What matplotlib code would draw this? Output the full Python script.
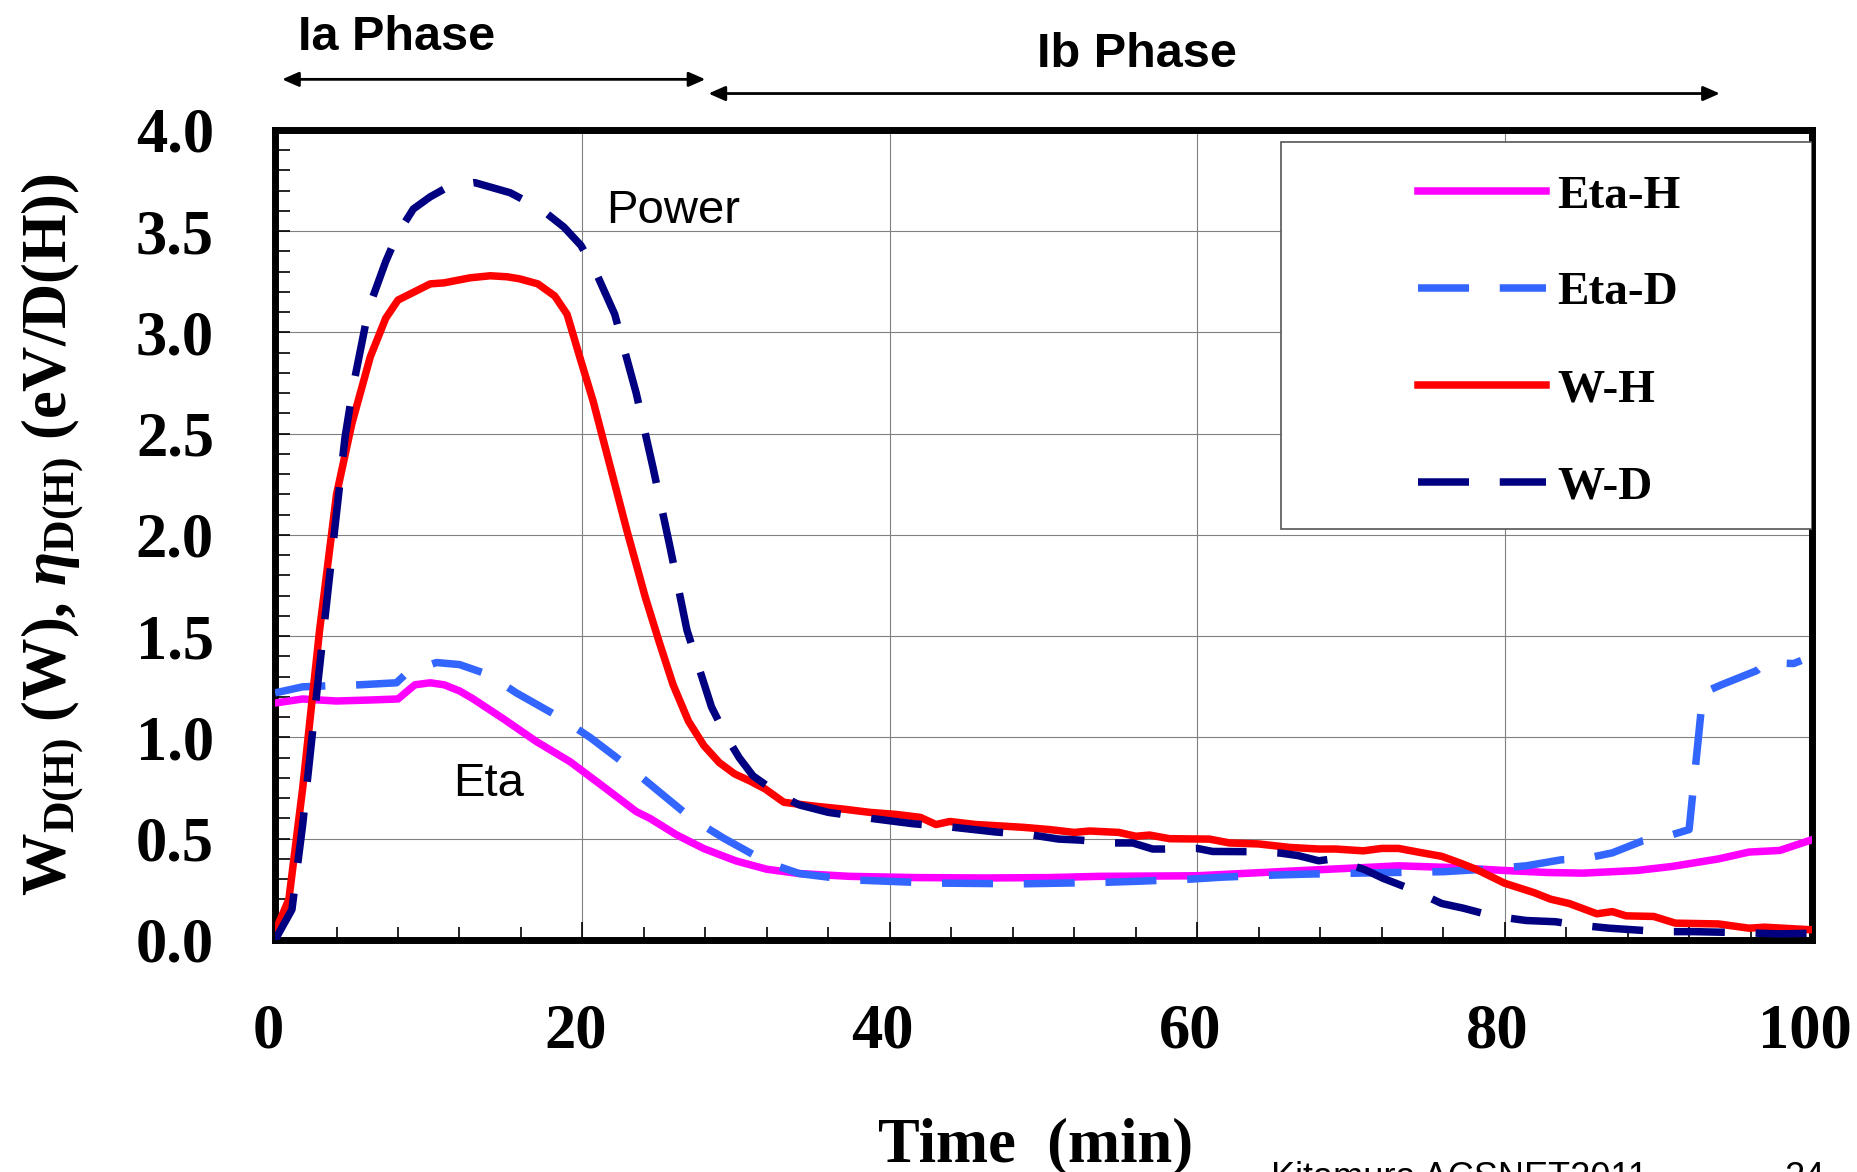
import numpy as np
import matplotlib
matplotlib.use('Agg')
import matplotlib.pyplot as plt
import matplotlib.transforms as mtransforms
from matplotlib.ticker import MultipleLocator, FormatStrFormatter
from matplotlib.patches import Rectangle

plt.rcParams['mathtext.fontset'] = 'custom'
plt.rcParams['mathtext.rm'] = 'Liberation Serif:bold'
plt.rcParams['mathtext.it'] = 'Liberation Serif:italic:bold'
plt.rcParams['mathtext.bf'] = 'Liberation Serif:bold'

# valeurs (temps en min)
t_wh = [0, 0.9, 1.8, 2.9, 4.0, 5.0, 6.2, 7.2, 8.0, 10.1, 11.0, 12.7, 14.0, 15.1, 15.9, 17.1,
        18.2, 19.0, 19.9, 20.7, 21.8, 22.9, 24.1, 25.0, 25.9, 26.9, 27.9, 28.9, 29.9, 30.9,
        31.9, 33.1, 34.1, 35.2, 37.0, 38.7, 40.4, 42.0, 43.0, 43.9, 45.6, 47.4, 48.7, 50.4,
        52.0, 53.0, 54.9, 56.0, 56.9, 58.2, 60.8, 62.1, 64.0, 66.0, 67.9, 69.0, 70.8, 72.0,
        73.1, 74.5, 75.9, 77.1, 78.2, 80.0, 81.9, 83.0, 84.2, 86.0, 87.0, 87.9, 89.7, 91.1,
        93.9, 95.9, 96.9, 100]
w_h = [0.04, 0.2, 0.75, 1.53, 2.2, 2.55, 2.88, 3.07, 3.16, 3.24, 3.245, 3.27, 3.28, 3.275, 3.265, 3.24,
       3.18, 3.09, 2.86, 2.66, 2.34, 2.02, 1.69, 1.47, 1.26, 1.08, 0.96, 0.876, 0.82, 0.785,
       0.745, 0.68, 0.67, 0.66, 0.646, 0.63, 0.62, 0.605, 0.57, 0.585, 0.57, 0.562, 0.556, 0.545,
       0.531, 0.538, 0.531, 0.512, 0.518, 0.50, 0.498, 0.479, 0.474, 0.457, 0.449, 0.449, 0.44, 0.452,
       0.452, 0.432, 0.413, 0.38, 0.347, 0.28, 0.234, 0.201, 0.18, 0.129, 0.14, 0.119, 0.116, 0.083,
       0.079, 0.058, 0.063, 0.05]

t_wd = [0, 1.1, 1.8, 2.6, 3.25, 3.9, 4.55, 5.1, 6.1, 7.2, 8.0, 9.0, 10.1, 11.4, 13.0, 15.3,
        17.3, 18.8, 19.9, 20.8, 22.1, 23.5, 24.6, 25.7, 26.8, 27.6, 28.4, 29.4, 30.2, 31.1,
        32.9, 34.1, 36.0, 38.3, 41.5, 43.7, 46.9, 49.1, 51.0, 52.4, 54.5, 55.8, 57.1, 57.9,
        60.0, 61.0, 63.4, 65.4, 66.6, 67.9, 68.8, 70.9, 72.1, 74.0, 75.9, 77.3, 79.2, 81.4,
        83.3, 84.7, 86.8, 90.2, 92.3, 95.5, 97.8, 100]
w_d = [0.0, 0.15, 0.57, 1.14, 1.59, 2.04, 2.48, 2.74, 3.12, 3.35, 3.49, 3.61, 3.67, 3.725, 3.74, 3.69,
       3.61, 3.52, 3.43, 3.31, 3.09, 2.70, 2.33, 1.94, 1.53, 1.34, 1.15, 1.0, 0.90, 0.81,
       0.714, 0.667, 0.63, 0.605, 0.574, 0.56, 0.533, 0.52, 0.498, 0.493, 0.479, 0.479, 0.449, 0.449,
       0.452, 0.437, 0.436, 0.429, 0.416, 0.391, 0.40, 0.347, 0.304, 0.248, 0.18, 0.157, 0.119, 0.096,
       0.09, 0.074, 0.058, 0.041, 0.041, 0.036, 0.03, 0.033]

t_eh = [0, 1.8, 4.0, 6.2, 8.0, 9.1, 10.1, 11.0, 12.0, 12.9, 14.9, 17.0, 19.2, 21.4, 23.5, 24.4,
        26.1, 27.9, 30.0, 32.0, 34.1, 37.4, 41.7, 46.1, 50.4, 53.6, 60.0, 66.6, 71.0, 73.1,
        76.4, 80.0, 82.8, 85.1, 88.6, 90.9, 93.9, 95.9, 97.9, 100]
eta_h = [1.17, 1.19, 1.18, 1.185, 1.19, 1.26, 1.27, 1.26, 1.23, 1.19, 1.09, 0.98, 0.88, 0.755, 0.634, 0.60,
         0.52, 0.451, 0.39, 0.349, 0.328, 0.314, 0.308, 0.306, 0.308, 0.314, 0.317, 0.342, 0.358, 0.366,
         0.358, 0.343, 0.333, 0.33, 0.343, 0.363, 0.40, 0.434, 0.442, 0.495]

t_ed = [0, 1.8, 3.4, 5.5, 7.9, 8.6, 10.5, 12.0, 13.9, 15.7, 18.5, 20.5, 23.1, 24.7, 27.1, 29.2,
        32.1, 34.1, 37.4, 42.8, 48.5, 53.8, 56.2, 59.5, 61.6, 64.9, 67.1, 70.5, 72.7, 76.0,
        78.9, 81.4, 83.7, 85.1, 87.0, 89.0, 90.9, 92.0, 92.9, 94.1, 96.4, 97.0, 98.8, 99.3]
eta_d = [1.22, 1.25, 1.255, 1.26, 1.27, 1.32, 1.37, 1.36, 1.31, 1.22, 1.10, 1.0, 0.85, 0.75, 0.60, 0.502,
         0.38, 0.328, 0.297, 0.281, 0.277, 0.284, 0.29, 0.30, 0.31, 0.32, 0.325, 0.33, 0.333, 0.337,
         0.35, 0.366, 0.396, 0.40, 0.43, 0.49, 0.52, 0.545, 1.22, 1.26, 1.33, 1.37, 1.365, 1.38]

labels = ['Eta-H', 'Eta-D', 'W-H', 'W-D']
couleurs = ['#FF00FF', '#3366FF', '#FF0000', '#000080']

fig = plt.figure(figsize=(18.57, 11.72), dpi=100)
ax = fig.add_axes([0.1481, 0.198, 0.8277, 0.6911])

lw = 5.4
tirets = (6.8, 4.1)
ax.plot(t_eh, eta_h, color=couleurs[0], lw=lw, label=labels[0], zorder=4)
ax.plot(t_ed, eta_d, color=couleurs[1], lw=lw, dashes=tirets, label=labels[1], zorder=4)
ax.plot(t_wh, w_h, color=couleurs[2], lw=lw, label=labels[2], zorder=4)
ax.plot(t_wd, w_d, color=couleurs[3], lw=lw, dashes=tirets, label=labels[3], zorder=4)

ax.set_xlim(0, 100)
ax.set_ylim(0, 4.0)
ax.xaxis.set_major_locator(MultipleLocator(20))
ax.xaxis.set_minor_locator(MultipleLocator(4))
ax.yaxis.set_major_locator(MultipleLocator(0.5))
ax.yaxis.set_minor_locator(MultipleLocator(0.1))
ax.yaxis.set_major_formatter(FormatStrFormatter('%.1f'))

ax.set_axisbelow(True)
ax.grid(which='major', color='#808080', lw=0.8)
for s in ax.spines.values():
    s.set_linewidth(5)

ax.tick_params(which='both', direction='in', top=False, right=False, width=1.2)
ax.tick_params(axis='x', which='major', length=13, pad=46)
ax.tick_params(axis='x', which='minor', length=9.5)
ax.tick_params(axis='y', which='both', length=11, pad=44)
decal = mtransforms.ScaledTranslation(-7 / 100, 0, fig.dpi_scale_trans)
for lab in ax.get_xticklabels():
    lab.set_transform(lab.get_transform() + decal)
for lab in ax.get_xticklabels() + ax.get_yticklabels():
    lab.set_fontfamily('Liberation Serif')
    lab.set_fontweight('bold')
    lab.set_fontsize(45)

ax.set_xlabel('Time  (min)', family='Liberation Serif', weight='bold', fontsize=45)
ax.xaxis.label.set_va('baseline')
ax.xaxis.set_label_coords(0.495, -0.273)
ax.set_ylabel(r'$\mathrm{W}_{\mathrm{D(H)}}$ (W), $\eta_{\mathrm{D(H)}}$ (eV/D(H))',
              family='Liberation Serif', weight='bold', fontsize=45)
ax.yaxis.label.set_va('center')
ax.yaxis.set_label_coords(-0.145, 0.5)

# cadre de la légende
cadre = Rectangle((0.6545, 0.507), 0.3455, 0.478, transform=ax.transAxes,
                  facecolor='white', edgecolor='#555555', lw=1.2, zorder=3)
ax.add_patch(cadre)
leg = ax.legend(loc='upper left', bbox_to_anchor=(0.7437, 0.945), frameon=False,
                borderaxespad=0, borderpad=0, handlelength=2.7, handletextpad=0.25,
                labelspacing=1.14, prop={'family': 'Liberation Serif', 'weight': 'bold', 'size': 34})
leg.set_zorder(6)

ax.text(25.9, 3.60, 'Power', family='Liberation Sans', fontsize=34, ha='center', va='center')
ax.text(13.9, 0.77, 'Eta', family='Liberation Sans', fontsize=34, ha='center', va='center')

# phases
ax.text(7.9, 4.455, 'Ia Phase', family='Liberation Sans', weight='bold', fontsize=35,
        ha='center', va='center', clip_on=False)
ax.text(56.1, 4.375, 'Ib Phase', family='Liberation Sans', weight='bold', fontsize=35,
        ha='center', va='center', clip_on=False)
fleche = dict(arrowstyle='<|-|>,head_length=0.5,head_width=0.22', lw=2, color='black',
              mutation_scale=20, shrinkA=0, shrinkB=0)
ax.annotate('', xy=(28.0, 4.25), xytext=(0.46, 4.25), arrowprops=fleche, annotation_clip=False)
ax.annotate('', xy=(94.0, 4.18), xytext=(28.2, 4.18), arrowprops=fleche, annotation_clip=False)

fig.text(0.6844, -0.0137, 'Kitamura ACSNET2011', family='Liberation Sans', fontsize=26, va='baseline')
fig.text(0.9607, -0.0137, '24', family='Liberation Sans', fontsize=26, va='baseline')

plt.savefig('out.png', dpi=100)
